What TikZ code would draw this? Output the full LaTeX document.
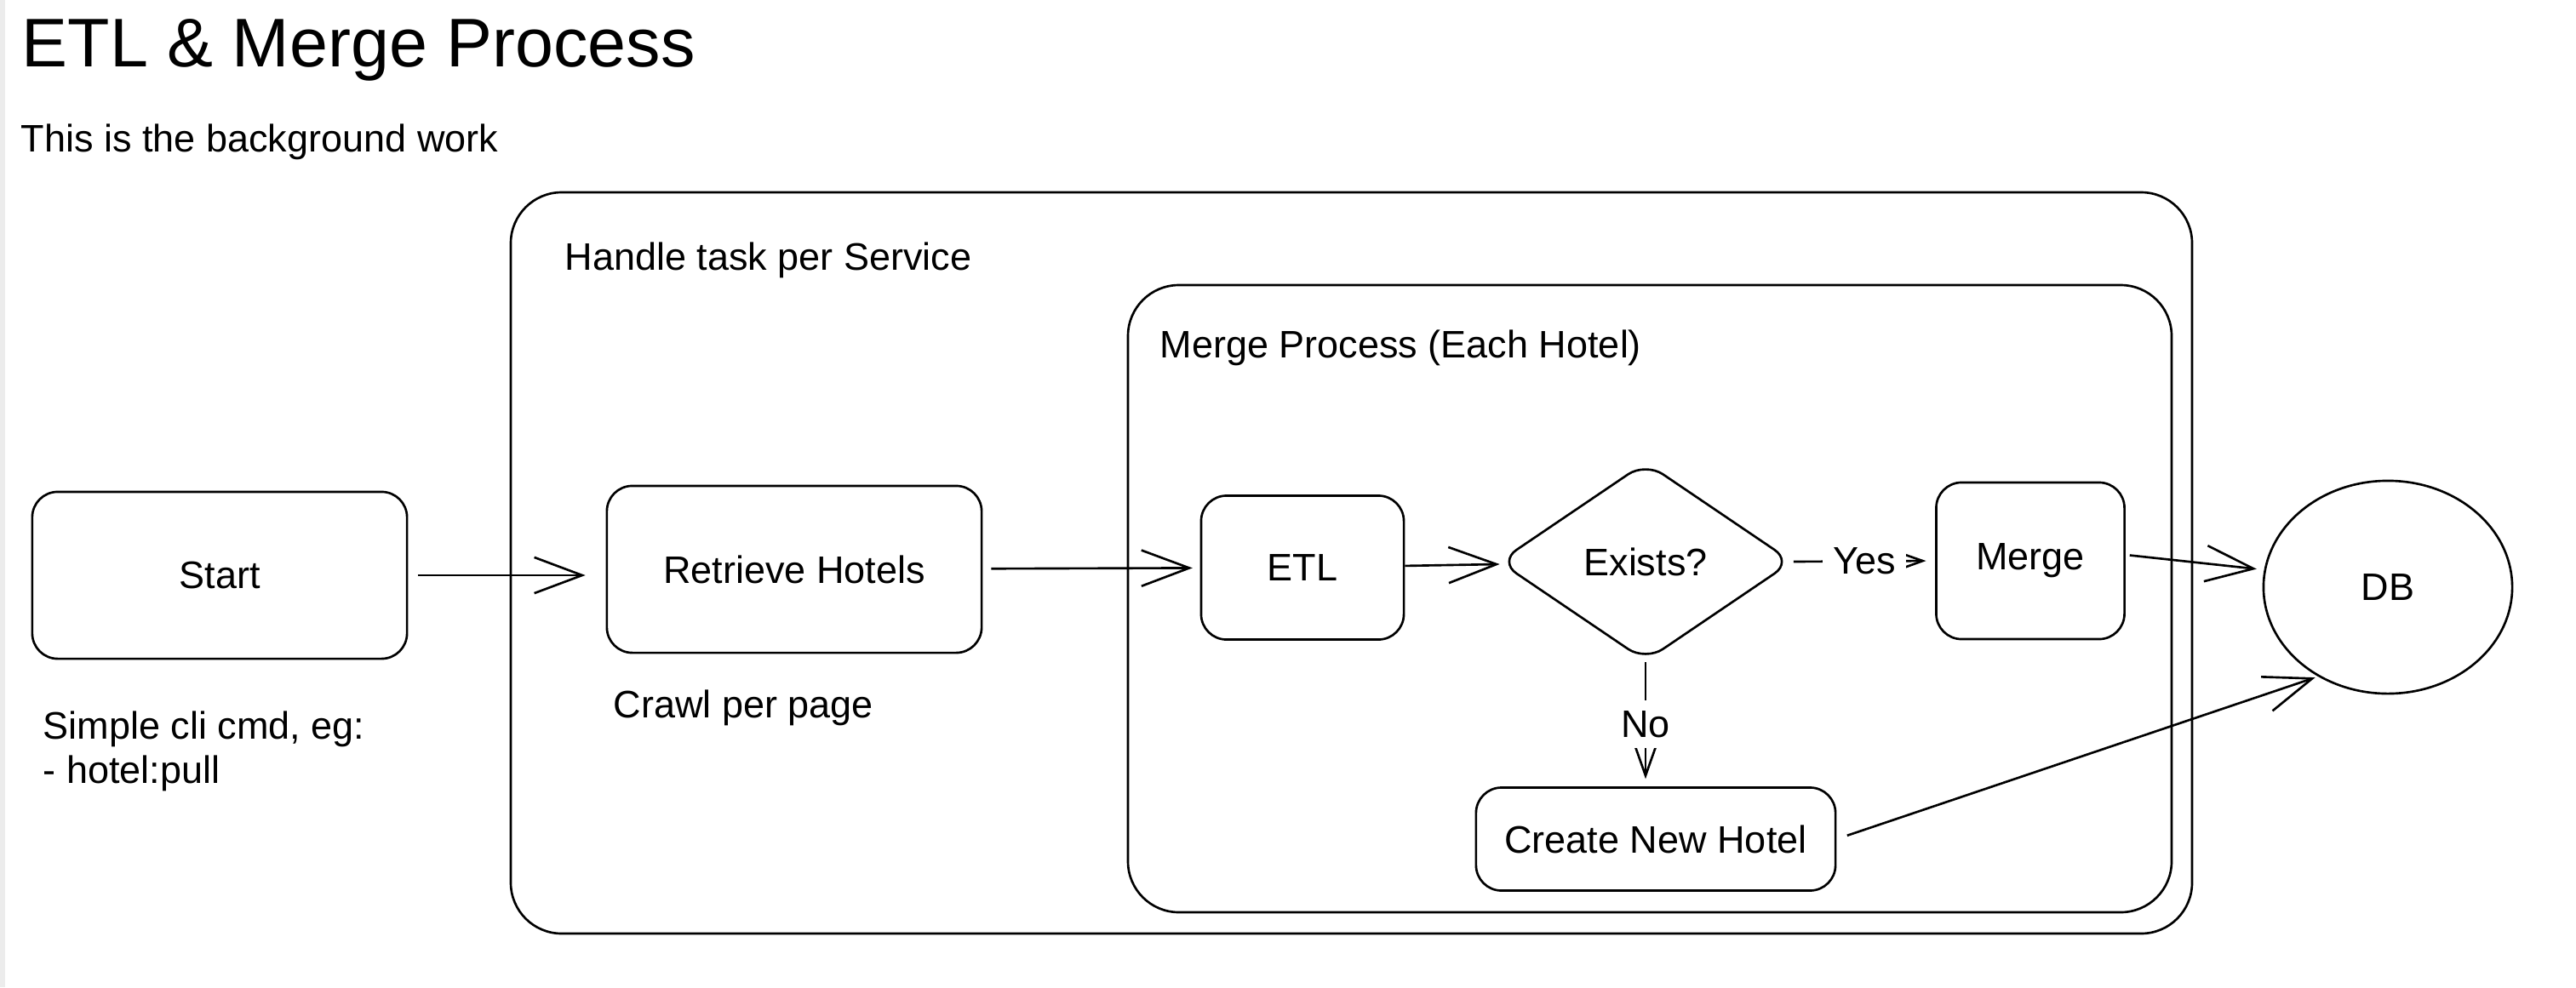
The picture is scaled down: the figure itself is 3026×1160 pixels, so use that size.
\documentclass[tikz,border=0pt]{standalone}
\usepackage{fontspec}
\setmainfont{Liberation Sans}
\usetikzlibrary{shapes.geometric,arrows.meta}

\tikzset{
  sk/.style={line width=0.75pt},
  txt/.style={font=\fontsize{12.8}{15}\selectfont},
  proc/.style={sk,txt,draw,rounded corners=8.5pt,inner sep=0pt},
  lbl/.style={txt,inner sep=0pt,anchor=base west},
  frame/.style={sk,rounded corners=17pt},
  arr/.style={sk,-{Straight Barb[length=16pt,width=12pt]}},
  small arr/.style={sk,-{Straight Barb[length=12pt,width=8.5pt]}},
  cut/.style={txt,fill=white,inner sep=3.5pt},
}

\begin{document}
\begin{tikzpicture}[x=0.01cm,y=-0.01cm]
\useasboundingbox (0,0) rectangle (3026,1160);
\fill[gray!15] (0,0) rectangle (6,1160);

% headings
\node[lbl,font=\fontsize{23}{27}\selectfont] (title) at (25,78) {ETL \& Merge Process};
\node[lbl] (subtitle) at (24,178) {This is the background work};

% containers
\draw[frame] (600,226) rectangle (2575,1097);
\node[lbl] (service) at (663,317) {Handle task per Service};
\draw[frame] (1325,335) rectangle (2551,1072);
\node[lbl] (each) at (1362,420) {Merge Process (Each Hotel)};

% steps
\node[proc,minimum width=4.4cm,minimum height=1.96cm] (start) at (258,676) {Start};
\node[proc,minimum width=4.4cm,minimum height=1.96cm] (retrieve) at (933,669) {Retrieve Hotels};
\node[proc,minimum width=2.38cm,minimum height=1.69cm] (etl) at (1530,667) {ETL};
\node[sk,txt,draw,diamond,rounded corners=7pt,inner sep=0pt,minimum width=3.45cm,minimum height=2.34cm] (exists) at (1933,660) {Exists?};
\node[proc,minimum width=2.21cm,minimum height=1.84cm] (merge) at (2385,659) {Merge};
\node[proc,minimum width=4.22cm,minimum height=1.21cm] (create) at (1945,986) {Create New Hotel};
\node[sk,txt,draw,ellipse,minimum width=2.92cm,minimum height=2.5cm] (db) at (2805,690) {DB};

% notes
\node[lbl] (crawl) at (720,843) {Crawl per page};
\node[lbl] (cli) at (50,868) {Simple cli cmd, eg:};
\node[lbl] (cmd) at (50,920) {- hotel:pull};

% flow
\draw[arr,shorten <=3.4pt,shorten >=6.8pt] (start.east) -- (retrieve.west |- start.east);
\draw[arr,shorten <=2.8pt,shorten >=2.5pt] (retrieve) -- (etl);
\draw[arr,shorten >=0.5pt] (etl) -- (exists);
\draw[small arr,shorten >=3pt] (exists.east) -- (merge.west) node[cut,midway] {Yes};
\draw[small arr,shorten >=2.5pt] (exists.south) -- (exists.south |- create.north) node[cut,midway] {No};
\draw[arr,shorten <=1.4pt,shorten >=2.5pt] ([yshift=2pt]merge.east) -- (db.172);
\draw[arr,shorten <=3.7pt,shorten >=1pt] (create.east) -- (db.232);

\end{tikzpicture}
\end{document}
